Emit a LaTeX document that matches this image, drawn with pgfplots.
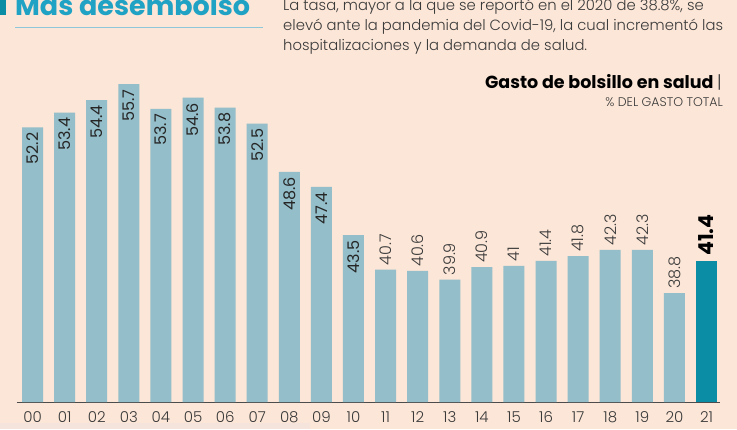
\documentclass[border=0pt]{standalone}
\usepackage{fontspec}
\setmainfont{Poppins}
\newfontfamily\plight{Poppins Light}
\newfontfamily\pbold{Poppins Bold}
\usepackage{pgfplots}
\pgfplotsset{compat=1.18}
\definecolor{bg}{HTML}{FCE6D7}
\definecolor{boxc}{HTML}{F4E4DB}
\definecolor{barc}{HTML}{94BEC9}
\definecolor{hi}{HTML}{0A8DA5}
\definecolor{titlec}{HTML}{1FA2C4}
\definecolor{tline}{HTML}{8CC8D8}
\definecolor{txt}{HTML}{3A3A3A}
\begin{document}
\begin{tikzpicture}
\fill[bg] (0,0) rectangle (737pt,429pt);
\path[use as bounding box] (0,0) rectangle (737pt,429pt);
\fill[boxc] (0,0) rectangle (310pt,6pt);
\fill[hi] (0,414pt) rectangle (6pt,432pt);
\draw[tline, line width=0.8pt] (15pt,402pt) -- (263pt,402pt);
\node[anchor=base west, inner sep=0, text=titlec, font=\pbold\fontsize{27}{27}\selectfont] at (15pt,413pt) {Más desembolso};
\begin{scope}[every node/.style={anchor=base west, inner sep=0, text=txt, font=\plight\fontsize{14.8}{14.8}\selectfont}]
\node at (283pt,418pt) {La tasa, mayor a la que se reportó en el 2020 de 38.8\%, se};
\node at (283pt,398pt) {elevó ante la pandemia del Covid-19, la cual incrementó las};
\node at (283pt,378.5pt) {hospitalizaciones y la demanda de salud.};
\end{scope}
\node[anchor=base east, inner sep=0, font=\fontsize{17.5}{17.5}\selectfont] at (722pt,340pt) {\pbold Gasto de bolsillo en salud \plight\textcolor{txt}{|}};
\node[anchor=base east, inner sep=0, text=txt, font=\plight\fontsize{12.5}{12.5}\selectfont] at (723pt,322pt) {\% DEL GASTO TOTAL};
\begin{axis}[
  at={(16.5pt,27pt)}, anchor=south west,
  width=703.5pt, height=321.6pt, scale only axis,
  xmin=-0.5, xmax=21.42, ymin=30, ymax=56,
  axis x line*=bottom, hide y axis,
  x axis line style={-, draw=black!70, line width=0.6pt},
  major tick length=0pt,
  xtick={0,...,21},
  xticklabels={00,01,02,03,04,05,06,07,08,09,10,11,12,13,14,15,16,17,18,19,20,21},
  xticklabel style={font=\plight\fontsize{15}{15}\selectfont, text=txt, yshift=-6pt},
  /pgf/number format/assume math mode=true,
  ybar, bar width=21pt, bar shift=0pt,
  point meta=explicit symbolic,
  nodes near coords,
  clip=false,
]
\addplot[fill=barc, draw=none, nodes near coords style={rotate=90, anchor=east, inner xsep=5pt, text=black!85, font=\fontsize{16}{16}\selectfont}] coordinates {
(0,52.2)[52.2] (1,53.4)[53.4] (2,54.4)[54.4] (3,55.7)[55.7] (4,53.7)[53.7] (5,54.6)[54.6] (6,53.8)[53.8] (7,52.5)[52.5] (8,48.6)[48.6] (9,47.4)[47.4] (10,43.5)[43.5]};
\addplot[fill=barc, draw=none, nodes near coords style={rotate=90, anchor=west, inner xsep=4pt, text=txt, font=\plight\fontsize{16}{16}\selectfont}] coordinates {
(11,40.7)[40.7] (12,40.6)[40.6] (13,39.9)[39.9] (14,40.9)[40.9] (15,41)[41] (16,41.4)[41.4] (17,41.8)[41.8] (18,42.3)[42.3] (19,42.3)[42.3] (20,38.8)[38.8]};
\addplot[fill=hi, draw=none, nodes near coords style={rotate=90, anchor=west, inner xsep=5pt, text=black, font=\pbold\fontsize{20.5}{20.5}\selectfont}] coordinates {
(21,41.4)[41.4]};
\end{axis}
\end{tikzpicture}
\end{document}
